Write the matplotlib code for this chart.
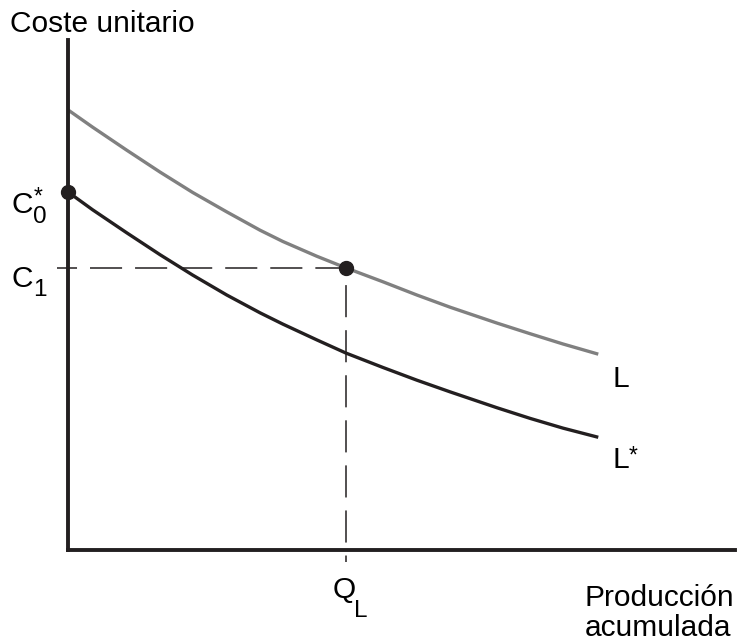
import matplotlib
matplotlib.use('Agg')
import matplotlib.pyplot as plt

plt.rcParams['font.family'] = ['Liberation Sans', 'DejaVu Sans']

# curva de aprendizaje L (gris) y L* (negra)
x_L = [0, 0.37, 0.88, 1.38, 1.87, 2.38, 2.88, 3.22, 3.73, 4.17,
       4.72, 5.23, 5.73, 6.43, 6.93, 7.42, 7.95]
y_L = [8.63, 8.29, 7.84, 7.41, 7.01, 6.63, 6.27, 6.05, 5.76, 5.53,
       5.26, 5.00, 4.76, 4.45, 4.24, 4.04, 3.84]
x_Ls = [0, 0.37, 0.88, 1.38, 1.87, 2.38, 2.88, 3.22, 3.73, 4.17,
        4.72, 5.23, 5.73, 6.43, 6.93, 7.42, 7.95]
y_Ls = [7.02, 6.67, 6.22, 5.79, 5.39, 5.00, 4.65, 4.43, 4.12, 3.86,
        3.58, 3.33, 3.10, 2.79, 2.58, 2.39, 2.21]

q_L = 4.17
c_1 = 5.53
c_0 = 7.02

fig = plt.figure(figsize=(7.37, 6.43), dpi=100)
ax = fig.add_axes([68/737, 93/643, 667/737, 510/643])
ax.set_xlim(0, 10)
ax.set_ylim(0, 10)

for s in ['top', 'right']:
    ax.spines[s].set_visible(False)
for s in ['left', 'bottom']:
    ax.spines[s].set_linewidth(2.8)
    ax.spines[s].set_color('#231f20')
ax.set_xticks([])
ax.set_yticks([])

ax.plot(x_L, y_L, color='#808080', lw=2.4, solid_capstyle='butt')
ax.plot(x_Ls, y_Ls, color='#231f20', lw=2.4, solid_capstyle='butt')

# líneas discontinuas
ax.plot([-0.16, q_L], [c_1, c_1], color='#231f20', lw=1.1,
        linestyle=(7.9, (21, 8.5)), clip_on=False)
ax.plot([q_L, q_L], [c_1, -0.24], color='#231f20', lw=1.1,
        linestyle=(18.3, (21, 8.5)), clip_on=False)

ax.plot([0, q_L], [c_0, c_1], 'o', color='#231f20', ms=10, clip_on=False)

fs = 21.5
fs_sub = 17.5


def etiqueta(x, y, txt, sub=None, sub_off=(0, 0), sup=None, sup_off=(0, 0)):
    ax.text(x, y, txt, fontsize=fs, ha='left', va='baseline')
    if sub:
        ax.annotate(sub, (x, y), xytext=sub_off, textcoords='offset points',
                    fontsize=fs_sub, ha='left', va='baseline',
                    annotation_clip=False)
    if sup:
        ax.annotate(sup, (x, y), xytext=sup_off, textcoords='offset points',
                    fontsize=fs_sub - 1, ha='left', va='top',
                    annotation_clip=False)


ax.text(-0.87, 10.16, 'Coste unitario', fontsize=fs, ha='left', va='baseline')
etiqueta(-0.84, 6.61, 'C', sub='0', sub_off=(15, -7.2),
         sup='*', sup_off=(15.5, 19.5))
etiqueta(-0.84, 5.16, 'C', sub='1', sub_off=(15.5, -6.5))
etiqueta(8.16, 3.20, 'L')
etiqueta(8.16, 1.61, 'L', sup='*', sup_off=(12, 17))
etiqueta(3.96, -0.94, 'Q', sub='L', sub_off=(15.5, -13.5))
ax.text(7.75, -1.10, 'Producción', fontsize=fs, ha='left', va='baseline')
ax.text(7.75, -1.69, 'acumulada', fontsize=fs, ha='left', va='baseline')

fig.savefig('out.png', dpi=100)
